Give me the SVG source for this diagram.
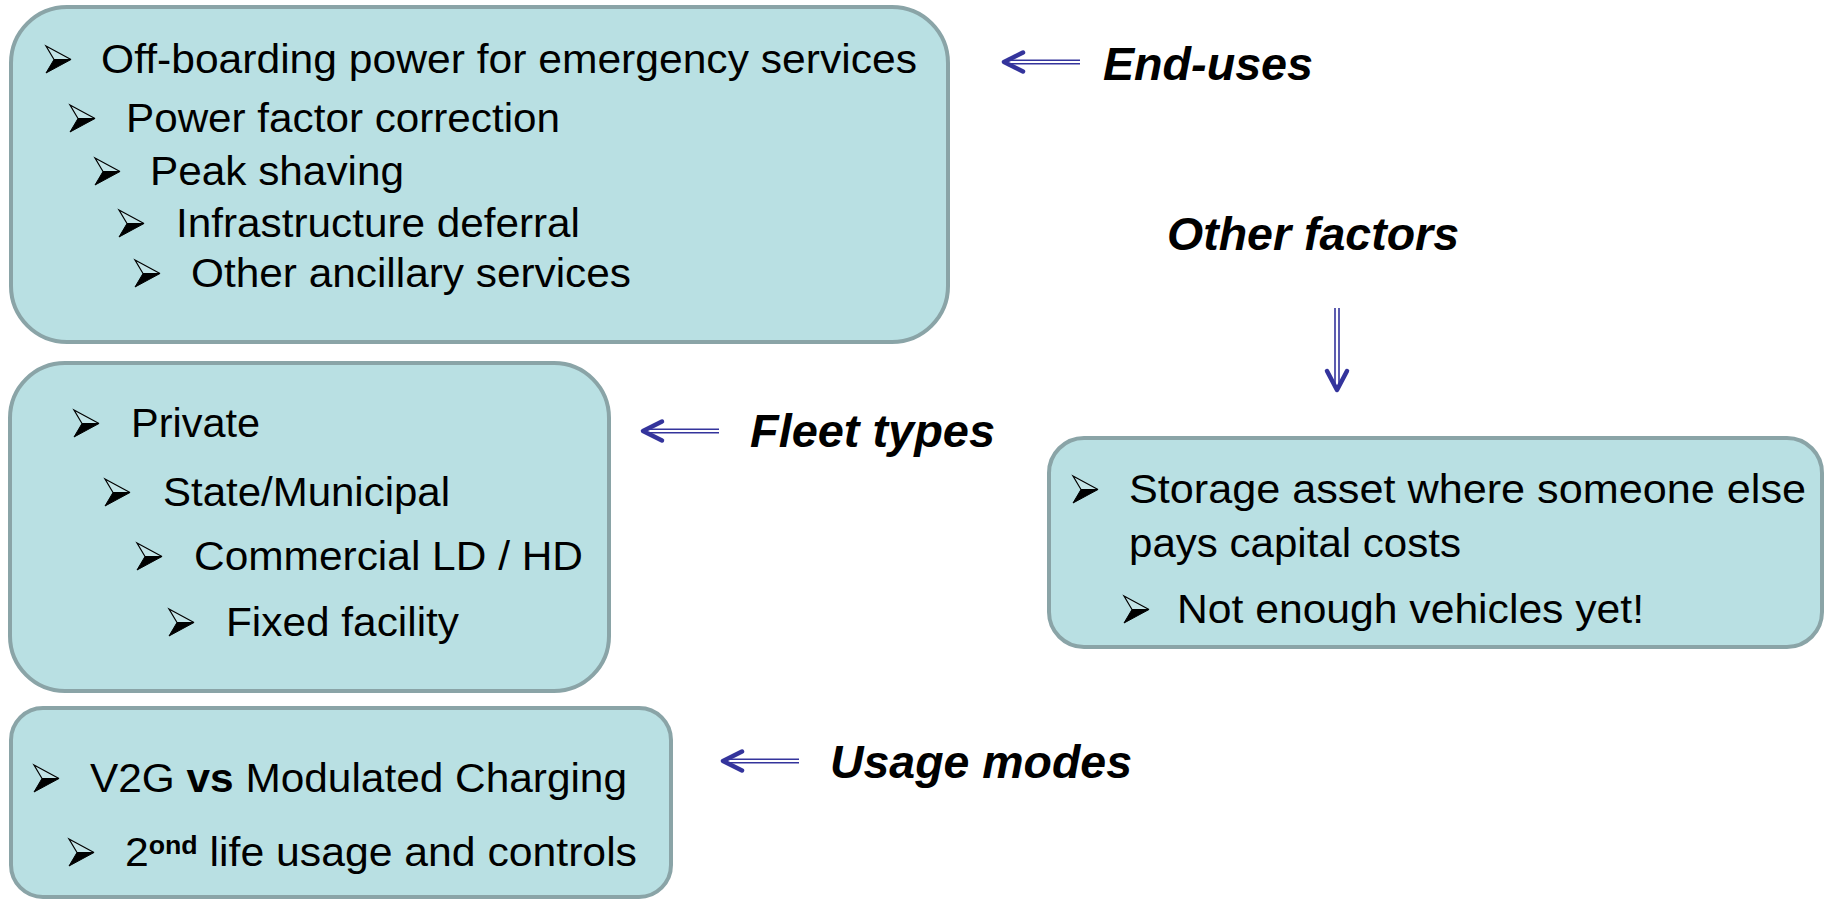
<svg xmlns="http://www.w3.org/2000/svg" xmlns:xlink="http://www.w3.org/1999/xlink" width="1825" height="899" viewBox="0 0 1825 899">
<style>
.box{fill:#B9E0E3;stroke:#8AA4A7;stroke-width:4}
.t{font-family:"Liberation Sans",Arial,sans-serif;font-size:40px;fill:#000}
.lbl{font-family:"Liberation Sans",Arial,sans-serif;font-size:47px;font-weight:bold;font-style:italic;fill:#000}
.sup{font-size:25px;font-weight:bold}
.b{font-weight:bold}
.ln{stroke:#34349C;stroke-width:1.6;fill:none}
.hd{stroke:#34349C;stroke-width:4.5;fill:none;stroke-linecap:round;stroke-linejoin:round}
</style>
<defs>
<g id="bul">
<polygon points="0,-27 25,-13.5 8,-13.5" fill="#fff" fill-opacity="0.15" stroke="#000" stroke-width="1.2" stroke-linejoin="miter"/>
<polygon points="8,-13.5 25,-13.5 0,0" fill="#000" stroke="#000" stroke-width="1"/>
</g>
<g id="larr">
<path class="hd" d="M19,-9.5 L0,0 L19,9.5"/>
<line class="ln" x1="4" y1="-1.8" x2="76" y2="-1.8"/>
<line class="ln" x1="4" y1="1.8" x2="76" y2="1.8"/>
</g>
</defs>

<g id="end-uses-box">
<rect class="box" x="11" y="7" width="937" height="335" rx="56" ry="56"/>
<use xlink:href="#bul" x="46" y="73"/>
<text class="t" x="101" y="73" textLength="816" lengthAdjust="spacingAndGlyphs">Off-boarding power for emergency services</text>
<use xlink:href="#bul" x="70" y="132"/>
<text class="t" x="126" y="132" textLength="434" lengthAdjust="spacingAndGlyphs">Power factor correction</text>
<use xlink:href="#bul" x="95" y="185"/>
<text class="t" x="150" y="185" textLength="254" lengthAdjust="spacingAndGlyphs">Peak shaving</text>
<use xlink:href="#bul" x="119" y="237"/>
<text class="t" x="176" y="237" textLength="404" lengthAdjust="spacingAndGlyphs">Infrastructure deferral</text>
<use xlink:href="#bul" x="135" y="287"/>
<text class="t" x="191" y="287" textLength="440" lengthAdjust="spacingAndGlyphs">Other ancillary services</text>
</g>

<g id="fleet-box">
<rect class="box" x="10" y="363" width="599" height="328" rx="55" ry="55"/>
<use xlink:href="#bul" x="74" y="437"/>
<text class="t" x="131" y="437" textLength="129" lengthAdjust="spacingAndGlyphs">Private</text>
<use xlink:href="#bul" x="105" y="506"/>
<text class="t" x="163" y="506" textLength="287" lengthAdjust="spacingAndGlyphs">State/Municipal</text>
<use xlink:href="#bul" x="137" y="570"/>
<text class="t" x="194" y="570" textLength="389" lengthAdjust="spacingAndGlyphs">Commercial LD / HD</text>
<use xlink:href="#bul" x="169" y="636"/>
<text class="t" x="226" y="636" textLength="233" lengthAdjust="spacingAndGlyphs">Fixed facility</text>
</g>

<g id="usage-box">
<rect class="box" x="11" y="708" width="660" height="189" rx="32" ry="32"/>
<use xlink:href="#bul" x="34" y="792"/>
<text class="t" x="90" y="792" textLength="537" lengthAdjust="spacingAndGlyphs">V2G <tspan class="b">vs</tspan> Modulated Charging</text>
<use xlink:href="#bul" x="69" y="866"/>
<text class="t" x="125" y="866" textLength="512" lengthAdjust="spacingAndGlyphs">2<tspan class="sup" dy="-12">ond</tspan><tspan dy="12"> life usage and controls</tspan></text>
</g>

<g id="other-box">
<rect class="box" x="1049" y="438" width="773" height="209" rx="35" ry="35"/>
<use xlink:href="#bul" x="1073" y="503"/>
<text class="t" x="1129" y="503" textLength="677" lengthAdjust="spacingAndGlyphs">Storage asset where someone else</text>
<text class="t" x="1129" y="557" textLength="332" lengthAdjust="spacingAndGlyphs">pays capital costs</text>
<use xlink:href="#bul" x="1124" y="623"/>
<text class="t" x="1177" y="623" textLength="467" lengthAdjust="spacingAndGlyphs">Not enough vehicles yet!</text>
</g>

<g id="labels">
<text class="lbl" x="1103" y="80" textLength="210" lengthAdjust="spacingAndGlyphs">End-uses</text>
<text class="lbl" x="1167" y="250" textLength="292" lengthAdjust="spacingAndGlyphs">Other factors</text>
<text class="lbl" x="750" y="447" textLength="245" lengthAdjust="spacingAndGlyphs">Fleet types</text>
<text class="lbl" x="830" y="778" textLength="302" lengthAdjust="spacingAndGlyphs">Usage modes</text>
</g>

<g id="connectors">
<use xlink:href="#larr" x="1004" y="62"/>
<use xlink:href="#larr" x="643" y="431"/>
<use xlink:href="#larr" x="723" y="761"/>
<g transform="translate(1337,390) rotate(-90)">
<path class="hd" d="M19,-10 L0,0 L19,10"/>
<line class="ln" x1="4" y1="-2" x2="82" y2="-2"/>
<line class="ln" x1="4" y1="2" x2="82" y2="2"/>
</g>
</g>
</svg>
